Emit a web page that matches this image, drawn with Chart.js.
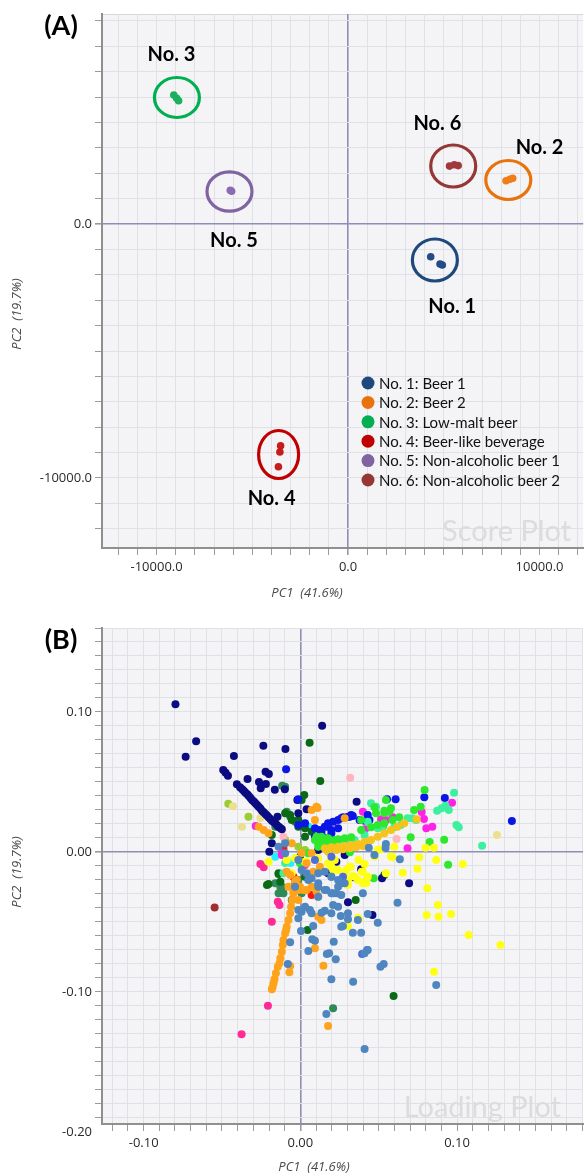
<!DOCTYPE html>
<html><head><meta charset="utf-8">
<script src="https://cdn.jsdelivr.net/npm/chart.js@4.4.1/dist/chart.umd.min.js"></script>
<style>
html,body{margin:0;padding:0;background:#fff;}
#wrap{width:587px;height:1175px;position:relative;overflow:hidden;}
canvas{display:block;}
</style></head><body>
<div id="wrap">
<canvas id="cA" width="587" height="600"></canvas>
<canvas id="cB" width="587" height="575"></canvas>
</div>
<script>
// ---------- Panel A : score plot ----------
const scoreLabels = ['No. 1: Beer 1','No. 2: Beer 2','No. 3: Low-malt beer','No. 4: Beer-like beverage','No. 5: Non-alcoholic beer 1','No. 6: Non-alcoholic beer 2'];
const scoreNo1 = [[4316,-1287],[4803,-1575],[4922,-1614]];
const scoreNo2 = [[8250,1700],[8450,1760],[8600,1800]];
const scoreNo3 = [[-9100,5080],[-8950,4950],[-8850,4850]];
const scoreNo4 = [[-3523,-8728],[-3560,-8976],[-3637,-9555]];
const scoreNo5 = [[-6150,1330],[-6080,1290]];
const scoreNo6 = [[5300,2280],[5550,2330],[5750,2300]];
const scoreTags = ['No. 1','No. 2','No. 3','No. 4','No. 5','No. 6'];
const scoreRingCenters = [[4534,-1417],[8368,1732],[-8938,4980],[-3627,-9075],[-6192,1280],[5492,2283]];
const scoreTagAnchors = [[5440,-3268],[10000,2992],[-9223,6654],[-3990,-10827],[-5959,-669],[4663,3937]];
const scoreXLabelValues = [-10000,0,10000];
const scoreYLabelValues = [0,-10000];

// ---------- Panel B : loading plot ----------
const loadNavy = [[-0.0797,0.1055],[-0.0665,0.0791],[-0.0732,0.0681],[-0.0424,0.0686],[-0.0236,0.0759],[-0.0095,0.0736],[0.0139,0.0902],
 [-0.0492,0.0586],[-0.0477,0.0566],[-0.0462,0.0545],[-0.0337,0.0521],[-0.0405,0.0484],[-0.0222,0.0574],[-0.0201,0.0557],[-0.0264,0.05],[-0.022,0.0486],[-0.0253,0.0455],[-0.0163,0.0445],[-0.0099,0.0448],
 [-0.0385,0.0462],[-0.0371,0.0448],[-0.036,0.0436],[-0.035,0.0424],[-0.0339,0.0412],[-0.0329,0.04],[-0.0318,0.0386],[-0.0308,0.0371],[-0.0297,0.036],[-0.0287,0.0348],[-0.0276,0.0336],[-0.0266,0.0324],[-0.0255,0.031],[-0.0245,0.0295],[-0.0234,0.0283],[-0.0223,0.0271],[-0.0213,0.026],[-0.0203,0.0248],[-0.0192,0.0236],[-0.0181,0.0224],[-0.017,0.0214],[-0.016,0.0205],[-0.015,0.0193],[-0.0139,0.0181],[-0.0128,0.0171],[-0.0118,0.0162],
 [-0.0146,0.0252],[-0.0019,0.0371],[0.004,0.0305],[0.0359,0.0359],[0.0694,-0.0224],[0.0521,-0.0188],[0.046,-0.045],[-0.0198,0.0002],[0.0304,-0.0359],[0.0388,-0.0124],[0.0342,-0.0181],[-0.0013,0.0276],[0.0177,-0.0152],[-0.0182,0.0062],
 [0.0114,0.0014],[0.0283,-0.0021],[0.023,-0.0069]];
const loadBlue = [[-0.0091,0.0591],[0.0553,0.0376],[0.0608,0.0376],[0.0791,0.0391],[0.0922,0.0386],[0.135,0.0221],[-0.0013,0.0376],[0.0525,0.0181],
 [0.0093,0.0169],[0.0125,0.0157],[0.0156,0.0181],[0.0177,0.0205],[0.0209,0.0216],[0.0241,0.0229],[0.0272,0.0248],[0.0315,0.0252],[0.0335,0.0257],[0.0378,0.0229],[0.043,0.0264],[0.0441,0.0229],[0.0135,0.0121],[0.0198,0.0157],[0.0261,0.0241],[0.0304,0.0252],[0.0325,0.0264],[0.041,0.0224],[0.0156,0.0098],
 [-0.0013,0.0193],[0.003,0.0205],[0.0093,0.0109],[0.0135,0.0145],[0.0177,0.0181],[0.0198,0.0134],[0.0241,0.0169]];
const loadRoyal = [[0.0093,-0.0057],[0.0261,-0.0224],[0.0198,-0.0034],[0.0272,-0.0176],[0.0394,-0.0729],[0.0426,-0.07]];
const loadSteel = [[0.0437,0.0031],[0.0546,0.0057],[0.0544,0.0029],[0.0635,-0.0052],[0.062,-0.0362],[0.0494,-0.0505],[0.0532,-0.08],[0.0511,-0.0819],[0.0867,-0.095],
 [0.043,-0.07],[0.041,-0.0724],[0.0337,-0.0926],[0.0198,-0.0909],[0.0226,-0.0766],[0.0184,-0.0724],[0.0169,-0.0729],[0.0213,-0.0641],[0.0051,-0.0707],[0.0076,-0.0624],[0.0093,-0.0634],
 [0.0335,-0.0576],[0.0388,-0.0576],[0.0304,-0.0481],[0.0272,-0.0529],[0.043,-0.0443],[0.0399,-0.0295],[0.0166,-0.1157],[0.041,-0.1407],[-0.008,-0.08],[-0.0065,-0.0645],
 [0.0004,-0.0564],[-0.0013,-0.0474],[0.0082,-0.0529],[0.0061,-0.0414],[0.0008,-0.0426],[0.0135,-0.0434],[0.0156,-0.0419],[0.0209,-0.0379],[0.0166,-0.0271],[0.023,-0.0295],[0.0258,-0.0457],
 [-0.0097,0.0062],[-0.0013,-0.0057],[-0.0034,-0.0248],[0.0051,-0.02],[0.0114,-0.0224],[0.0198,-0.0176],[0.0241,-0.0248],[0.0283,-0.0224],[0.0198,-0.0295],[0.0114,-0.0319],[0.003,-0.0391],[-0.0013,-0.0414],[0.0072,-0.0438],[0.0198,-0.0438],[0.0241,-0.0391],[0.0304,-0.0438],[0.0367,-0.0486],[0.0261,-0.0534],[0.0473,-0.0021],
 [0.0008,-0.0129],[0.004,-0.0152],[0.0072,-0.0188],[0.0114,-0.0152],[0.0156,-0.0141],[0.0198,-0.0176],[0.0241,-0.02],[0.0114,-0.0248],[0.0156,-0.0271],[0.0209,-0.0295],[0.0261,-0.0307],[-0.0139,0.0038],[-0.0097,-0.0009]];
const loadOrange = [[-0.0182,-0.0981],[-0.0177,-0.0966],[-0.0171,-0.0938],[-0.0165,-0.0909],[-0.0156,-0.0866],[-0.0144,-0.0819],[-0.0133,-0.0795],[-0.0128,-0.0759],[-0.0118,-0.0712],[-0.0112,-0.0664],[-0.0108,-0.0629],[-0.0097,-0.0581],[-0.0091,-0.0557],[-0.0087,-0.0534],[-0.0076,-0.0486],[-0.0065,-0.0438],[-0.0059,-0.0391],[-0.0051,-0.0343],[-0.0044,-0.0295],[-0.0034,-0.0248],[-0.0023,-0.02],
 [-0.007,-0.0859],[-0.0065,-0.0814],[0.0093,-0.0688],[0.0147,-0.0812],[0.0177,-0.1243],
 [-0.0266,0.0181],[-0.0234,0.0157],[-0.0203,0.0134],[-0.0055,0.0062],[0.0008,-0.0009],[0.0072,-0.0009],[0.0103,0.0324],[0.0072,0.03],[0.0093,0.0229],[0.011,0.0314],[0.004,-0.0081],[0.0082,-0.0141],[0.0125,-0.0105],
 [-0.0076,-0.0248],[-0.0044,-0.0283],[-0.0013,-0.0343],[0.004,-0.0271],[0.0072,-0.0248],[0.0103,-0.0283],[0.0114,-0.0319],[0.0114,-0.0462],[0.0135,-0.0486],[0.0283,0.0241],
 [-0.0087,-0.0141],[-0.0065,-0.0164],[-0.0034,-0.0212],[-0.0002,-0.0248],[0.0019,-0.0271],[-0.0013,-0.0271]];
const loadGold = [[0.0156,0.0026],[0.0198,0.0034],[0.0241,0.0038],[0.0283,0.0043],[0.0325,0.005],[0.0367,0.0057],[0.041,0.0074],[0.0451,0.0086],[0.0494,0.0109],[0.0536,0.0134],[0.0578,0.0157],[0.062,0.0181],[0.0663,0.0205],
 [0.0177,0.0002],[0.023,0.0014],[0.0272,0.0019],[0.0315,0.0026],[0.0356,0.0034],[0.0399,0.0043],[0.0742,0.0234]];
const loadYellow = [[0.0799,0.0031],[0.0853,0.0031],[0.0759,-0.0038],[0.0867,-0.0057],[0.1036,-0.0086],[0.0747,-0.0119],[0.0654,-0.0148],[0.0589,-0.0038],[0.0519,0.0021],[0.0546,-0.0152],
 [0.081,-0.0259],[0.0878,-0.0379],[0.0806,-0.045],[0.0882,-0.0462],[0.0962,-0.0443],[0.1074,-0.0593],[0.1277,-0.0664],[0.0853,-0.0855],[0.0367,-0.0469],[0.0304,-0.0529],
 [-0.0087,-0.0057],[0.004,-0.0069],[-0.0055,-0.0152],[0.0198,-0.0105],[0.0241,-0.0129],[0.0283,-0.0152],[0.0315,-0.0105],[0.0346,-0.0176],[0.0367,-0.02],[0.0304,-0.02],
 [0.0335,-0.0171],[0.0392,-0.0141],[0.041,-0.0212],[0.0293,-0.0129],[0.0209,-0.0129],[0.0251,-0.0236],[0.0304,-0.0236],[0.0578,-0.0033],[0.0473,-0.0033],[0.0399,-0.0224],[0.042,-0.0224],[0.0373,-0.0479],
 [0.0372,-0.0057],[0.041,-0.0086],[0.0321,-0.0105],[0.0399,-0.0141],[0.043,-0.0176],[0.0494,0.0014],[0.0599,0.0038],
 [-0.0034,-0.0045],[0.003,-0.0069],[0.0114,-0.0045],[0.0177,-0.0081],[0.022,-0.0057],[-0.0203,-0.0069]];
const loadLime = [[0.0793,0.0443],[0.0704,0.0105],[0.0825,0.0071],[0.0918,0.0088],[0.0943,-0.0091],[0.0114,0.0062],[0.0156,0.0074],[0.0188,0.0086],[0.0241,0.0091],[0.0283,0.0098],[0.0325,0.0105],[0.0388,0.0157],[0.0451,0.0176],[0.0494,0.0193],[0.0536,0.0205],
 [0.0568,0.0288],[0.0536,0.0295],[0.0578,0.0312],[0.0631,0.0248],[0.0589,0.0229],[0.0473,0.0319],[0.0483,0.0276],[0.0388,0.0229],[0.0726,0.03],[0.0768,0.0324],[0.0093,0.0086],[0.0135,0.0109],[0.0177,0.0098],[0.022,0.0086],[0.0468,-0.0188],[0.0546,0.0371],[0.0536,0.0276],[0.0316,-0.0002],
 [-0.0002,-0.0081],[0.0051,-0.0009],[0.0114,0.0038],[0.0103,0.0109],[0.0156,0.0086],[0.0198,0.0062]];
const loadSpring = [[0.0981,0.0424],[0.0873,0.0295],[0.0901,0.0312],[0.0926,0.0331],[0.0947,0.03],[0.0739,0.0229],[0.0996,0.0193],[0.1011,0.0176],[0.116,0.0045],[0.0451,0.0348],[0.0483,0.0324],
 [0.0251,0.0086],[0.0283,0.0091],[0.0315,0.0086],[0.0346,0.0086],[0.041,0.0121],[0.0494,0.0169],[0.0525,0.0176],[0.0599,0.0176],[0.0641,0.0193],[0.0684,0.0241],[0.0715,0.0241],[0.043,0.0216],[-0.0097,-0.0079],[-0.0108,-0.0152]];
const loadMagenta = [[0.0968,0.0352],[0.0774,0.0286],[0.0804,0.0169],[0.0842,0.0181],[0.0684,0.0026],[0.0413,0.0162],[0.0515,0.0234],[0.0546,0.0229],[0.0589,0.0248],[0.0789,0.0236],[0.0399,0.0288],[-0.0285,0.0186],[-0.0118,-0.0021],[-0.0118,-0.0009],[0.003,-0.0093]];
const loadDarkGreen = [[0.0059,0.0781],[0.0127,0.0507],[0.0595,-0.1029],[-0.0213,-0.0236],[-0.0139,-0.0157],[0.0046,-0.0557],[0.0353,-0.0343],[0.0536,-0.0164],
 [-0.0182,0.0121],[-0.0139,0.0181],[-0.0097,0.0276],[-0.0055,0.0229],[-0.0013,0.0181],[0.0025,0.0407],[0.0008,0.0371],[0.003,0.0109],[-0.0139,-0.0152],[-0.0203,-0.0229],[-0.0128,-0.0212],[0.003,-0.0176],[-0.0002,-0.0034],
 [-0.0065,0.0264],[-0.0013,0.0229],[0.003,0.0169],[0.0072,0.0145]];
const loadSeaGreen = [[-0.0116,0.0474],[-0.0097,0.0466],[-0.0087,0.0288],[-0.0065,0.0252],[-0.0034,0.0216],[-0.016,0.0181],[-0.0118,-0.0248],[-0.0139,-0.0295],[-0.0055,-0.0343],[0.0008,-0.0295],[-0.0013,-0.02],[0.0209,-0.1116],
 [-0.016,-0.0224],[-0.0128,-0.0248],[-0.0108,-0.0295]];
const loadDeepPink = [[-0.0375,-0.1302],[-0.0207,-0.1098],[-0.0182,-0.0498],[-0.0144,-0.0355],[-0.0133,-0.0379],[-0.0255,-0.0086],[-0.0234,-0.0109],[-0.0128,-0.0291]];
const loadRed = [[-0.0108,0.0026],[-0.0034,-0.02],[-0.0034,-0.0224],[-0.0044,-0.0176],[0.0072,-0.0307]];
const loadCyan = [[0.0051,0.0181],[-0.016,-0.0034],[-0.0063,-0.0079]];
const loadPink = [[0.0318,0.0531],[-0.0108,0.0109],[0.0614,0.0093]];
const loadKhaki = [[-0.043,0.0326],[-0.0373,0.0181],[-0.0255,0.0243],[0.1255,0.0121]];
const loadYellowGreen = [[-0.046,0.0345],[-0.0331,0.0252],[-0.0013,0.0038],[0.003,0.0014],[-0.0097,0.0086]];
const loadBrown = [[-0.0547,-0.0396]];
const loadXLabelValues = [-0.1,0,0.1];
const loadYLabelValues = [0.1,0,-0.1,-0.2];

// ---------- helpers ----------
Chart.defaults.font.family = "'Open Sans', sans-serif";
const pts = a => a.map(p => ({x:p[0], y:p[1]}));
const near = (a,b,eps) => Math.abs(a-b) < eps;
function stepTicks(step){
  return function(scale){
    const t=[];
    for(let k=Math.ceil(scale.min/step-1e-9);k<=Math.floor(scale.max/step+1e-9);k++) t.push({value:+(k*step).toFixed(6)});
    scale.ticks=t;
  };
}
function axis(min,max,step,labelVals,dec,eps,isY,fitSize){
  return {
    type:'linear', min:min, max:max, position: isY?'left':'bottom',
    afterBuildTicks: stepTicks(step),
    afterFit: s => { if(isY) s.width=fitSize; else s.height=fitSize; },
    ticks:{autoSkip:false, maxRotation:0, minRotation:0, padding: isY?3:4, color:'#2a2a2a', font:{size:13},
      callback: v => { const m = labelVals.find(l=>near(l,v,eps)); return m===undefined ? '' : m.toFixed(dec); }},
    grid:{ color: c => near(c.tick.value,0,eps) ? '#8e8eb6' : '#e0e0e7',
           lineWidth: c => near(c.tick.value,0,eps) ? 1.6 : 1,
           tickColor:'#9a9a9a', tickLength:7, drawTicks:true },
    border:{display:true, color:'#8f8f8f', width:2},
    title:{display:false}
  };
}
function framePlugin(opts){
  return {
    id:'frame'+opts.tag,
    beforeDraw(chart){
      const {ctx,chartArea:a}=chart;
      ctx.save(); ctx.fillStyle='#f4f4f6'; ctx.fillRect(a.left,a.top,a.right-a.left,a.bottom-a.top);
      ctx.strokeStyle='#d6d6dc'; ctx.lineWidth=1; ctx.beginPath(); ctx.moveTo(a.left,a.top+0.5); ctx.lineTo(a.right,a.top+0.5); ctx.stroke();
      ctx.restore();
    },
    beforeDatasetsDraw(chart){
      const {ctx,chartArea:a}=chart;
      ctx.save(); ctx.fillStyle='#dcdcdc'; ctx.font='29px Lato'; ctx.textAlign='right'; ctx.textBaseline='alphabetic';
      ctx.fillText(opts.mark, a.right-opts.markInset, a.bottom-7); ctx.restore();
    },
    afterDraw(chart){
      const {ctx}=chart;
      ctx.save();
      ctx.fillStyle='#000'; ctx.font='bold 27px Lato'; ctx.textAlign='center'; ctx.textBaseline='middle';
      ctx.fillText(opts.tag, 61, opts.tagY);
      ctx.fillStyle='#4a4a4a'; ctx.font='italic 13px "Open Sans"';
      ctx.fillText('PC1  (41.6%)', opts.xt[0], opts.xt[1]);
      ctx.translate(opts.yt[0], opts.yt[1]); ctx.rotate(-Math.PI/2);
      ctx.fillText('PC2  (19.7%)', 0, 0);
      ctx.restore();
      if(opts.extra) opts.extra(chart);
    }
  };
}

// ---------- Chart A ----------
const scoreColors = ['#26498a','#f07d1a','#1cb05c','#c81c1c','#8b6bb1','#a03a3a'];
const ringColors = ['#1f497d','#e8730c','#00b050','#c00000','#8064a2','#953735'];
const ringRadii = [[22.5,21],[22.5,19.5],[22.5,20],[20,24],[22.5,19.7],[22.5,21]];
const scoreSets = [scoreNo1,scoreNo2,scoreNo3,scoreNo4,scoreNo5,scoreNo6];

const annotA = {
  id:'annotA',
  afterDatasetsDraw(chart){
    const {ctx,scales:{x,y}}=chart;
    ctx.save();
    scoreRingCenters.forEach((c,i)=>{
      ctx.beginPath();
      ctx.ellipse(x.getPixelForValue(c[0]), y.getPixelForValue(c[1]), ringRadii[i][0], ringRadii[i][1], 0, 0, Math.PI*2);
      ctx.strokeStyle=ringColors[i]; ctx.lineWidth=3.2; ctx.stroke();
    });
    ctx.fillStyle='#000'; ctx.font='bold 20px Lato'; ctx.textAlign='center'; ctx.textBaseline='middle';
    scoreTagAnchors.forEach((c,i)=>ctx.fillText(scoreTags[i], x.getPixelForValue(c[0]), y.getPixelForValue(c[1])));
    ctx.textAlign='left'; ctx.font='15px Lato';
    chart.data.datasets.forEach((ds,i)=>{
      const yy=383+i*19.4;
      ctx.beginPath(); ctx.arc(368,yy,6.5,0,Math.PI*2); ctx.fillStyle=ringColors[i]; ctx.fill();
      ctx.fillStyle='#111'; ctx.fillText(ds.label,379,yy+1);
    });
    ctx.restore();
  }
};

new Chart(document.getElementById('cA'), {
  type:'scatter',
  data:{ datasets: scoreSets.map((s,i)=>({label:scoreLabels[i], data:pts(s), backgroundColor:scoreColors[i], borderWidth:0, pointRadius:3.8, pointHoverRadius:3.8})) },
  options:{
    responsive:false, animation:false, devicePixelRatio:1,
    layout:{padding:{top:14,right:0,left:0,bottom:0}},
    plugins:{legend:{display:false}, tooltip:{enabled:false}},
    scales:{
      x: axis(-12850,12280,1000,scoreXLabelValues,1,1e-3,false,52),
      y: axis(-12756,8268,1000,scoreYLabelValues,1,1e-3,true,102)
    }
  },
  plugins:[framePlugin({tag:'(A)', tagY:26, mark:'Score Plot', markInset:12, xt:[307,593], yt:[17,314]}), annotA]
});

// ---------- Chart B ----------
const loadGroups = [
  [loadSteel,'#4f86c0'],[loadRoyal,'#4a6fdc'],[loadOrange,'#ffa31a'],[loadGold,'#f7c21a'],[loadYellow,'#ffff14'],
  [loadLime,'#2ee82e'],[loadSpring,'#3cf0a0'],[loadBlue,'#0a16e6'],[loadMagenta,'#ff22e6'],[loadNavy,'#0b0b82'],
  [loadDarkGreen,'#0a6a16'],[loadSeaGreen,'#2e8b57'],[loadDeepPink,'#ff2a96'],[loadRed,'#ff1414'],[loadCyan,'#22f0ff'],
  [loadPink,'#ffb6c1'],[loadKhaki,'#ece090'],[loadYellowGreen,'#9acd32'],[loadBrown,'#a03030']
];
const extraB = chart => {
  const {ctx,scales:{y}}=chart;
  ctx.save(); ctx.fillStyle='#2a2a2a'; ctx.font='13px "Open Sans"'; ctx.textAlign='right'; ctx.textBaseline='middle';
  loadYLabelValues.filter(v=>v<y.min).forEach(v=>ctx.fillText(v.toFixed(2), 92, y.getPixelForValue(v)));
  ctx.restore();
};
new Chart(document.getElementById('cB'), {
  type:'scatter',
  data:{ datasets: loadGroups.map(g=>({data:pts(g[0]), backgroundColor:g[1], borderWidth:0, pointRadius:4, pointHoverRadius:4})) },
  options:{
    responsive:false, animation:false, devicePixelRatio:1,
    layout:{padding:{top:28,right:0,left:0,bottom:0}},
    plugins:{legend:{display:false}, tooltip:{enabled:false}},
    scales:{
      x: axis(-0.12658,0.18038,0.01,loadXLabelValues,2,1e-6,false,51),
      y: axis(-0.1943,0.16,0.01,loadYLabelValues,2,1e-6,true,102)
    }
  },
  plugins:[framePlugin({tag:'(B)', tagY:40, mark:'Loading Plot', markInset:22, xt:[314,567], yt:[17,272], extra:extraB})]
});
</script>
</body></html>
